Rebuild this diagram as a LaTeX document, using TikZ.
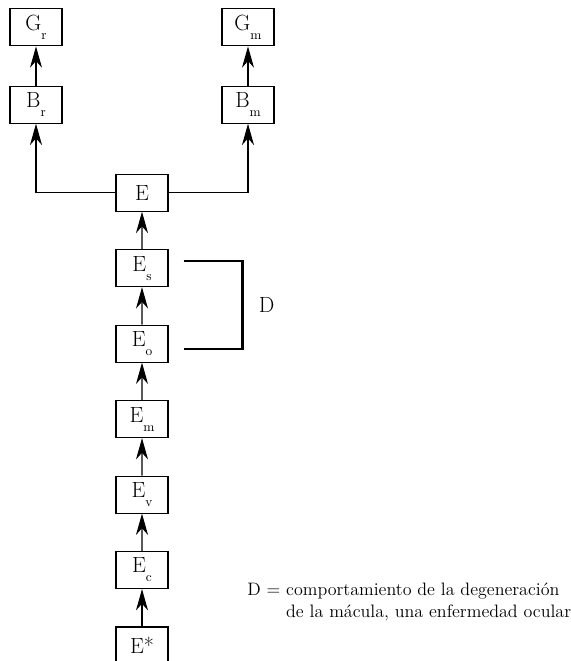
\documentclass[tikz,border=0pt]{standalone}
\usetikzlibrary{arrows.meta,trees,calc}
\newcommand{\lowsub}[1]{\raisebox{-6.75pt}{\fontsize{10}{11}\selectfont #1}}

\begin{document}
\begin{tikzpicture}
        [x=0.75pt, y=0.75pt, grow'=up,
        box/.style={draw=black, line width=0.8pt, minimum width=39pt,
        minimum height=27.75pt, inner sep=0pt, font=\fontsize{16.5}{19}\selectfont},
        every child node/.style={box},
        edge from parent/.style={draw=black, line width=0.8pt,
        -{Stealth[length=16pt, width=9pt, inset=5pt]}},
        branchl/.style={edge from parent path={(\tikzparentnode.west) -| (\tikzchildnode.south)}},
        branchr/.style={edge from parent path={(\tikzparentnode.east) -| (\tikzchildnode.south)}},
        stem/.style={edge from parent path={(\tikzparentnode) -- (\tikzchildnode)}},
        level distance=56.6pt,
        level 7/.style={level distance=66pt, sibling distance=159pt},
        level 8/.style={level distance=58pt}]
        \useasboundingbox (0,0) rectangle (571,661);
        \node [box] (estar) at (142,15.5) {E*}
        child {
            node (ec) {E\lowsub{c}}
            child {
                node (ev) {E\lowsub{v}}
                child {
                    node (em) {E\lowsub{m}}
                    child {
                        node (eo) {E\lowsub{o}}
                        child {
                            node (es) {E\lowsub{s}}
                            child {
                                node (e) {E}
                                child [branchl] {
                                    node (br) {B\lowsub{r}}
                                    child [stem] {
                                        node (gr) {G\lowsub{r}}
                                    }
                                }
                                child [branchr] {
                                    node (bm) {B\lowsub{m}}
                                    child [stem] {
                                        node (gm) {G\lowsub{m}}
                                    }
                                }
                            }
                        }
                    }
                }
            }
        };
        % bracket D
        \coordinate (dtop) at ($(es.east)+(15,7.5)$);
        \coordinate (dbot) at ($(eo.east)+(15,-5.5)$);
        \draw [line width=1.6pt] (dtop) -- ($(dtop)+(59,0)$) |- (dbot);
        \node [font=\fontsize{16.5}{19}\selectfont] (dlabel) at ($(dtop)!0.5!(dbot)+(83,0)$) {D};
        \node [anchor=west, inner sep=0pt, font=\fontsize{13.5}{16.5}\selectfont] (legend) at (247,59)
            {\begin{tabular}{@{}l@{ }l@{}}
            D = & comportamiento de la degeneración\\
                & de la mácula, una enfermedad ocular
            \end{tabular}};
\end{tikzpicture}
\end{document}
